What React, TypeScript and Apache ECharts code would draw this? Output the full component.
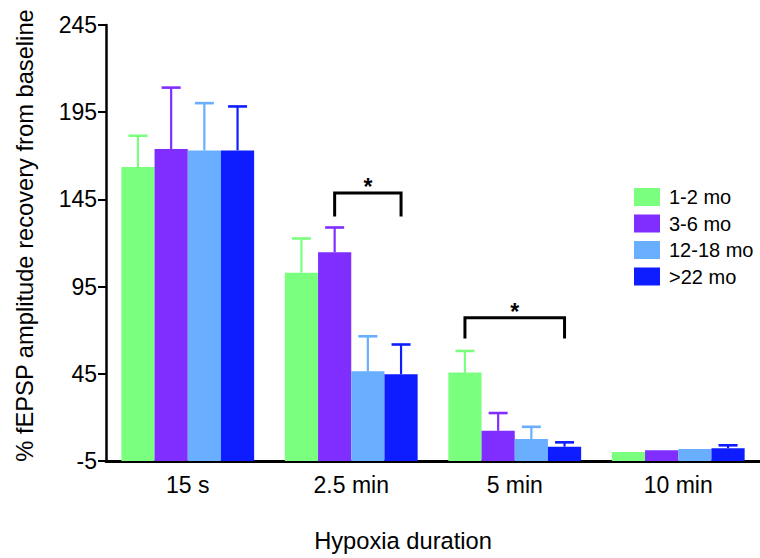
import React, { useEffect, useRef } from "react";
import * as echarts from "echarts";

const categories = ["15 s", "2.5 min", "5 min", "10 min"];
const seriesNames = ["1-2 mo", "3-6 mo", "12-18 mo", ">22 mo"];
const seriesColors = ["#7BFF7F", "#7F2EFF", "#69AEFF", "#0D1DFF"];

const means1to2 = [163.6, 103.0, 45.7, 0.1];
const means3to6 = [173.9, 114.7, 12.3, 1.1];
const means12to18 = [173.1, 46.5, 7.6, 1.9];
const meansOver22 = [173.1, 44.8, 3.2, 2.3];

const errors1to2 = [17.9, 19.6, 12.4, 0];
const errors3to6 = [35.2, 14.2, 10.2, 0];
const errors12to18 = [27.1, 20.0, 7.0, 0];
const errorsOver22 = [25.2, 17.0, 2.5, 1.7];

// [category index, from series, to series, bracket top, leg bottom]
const brackets = [
  [1, 1, 3, 148.7, 135.2],
  [2, 0, 3, 77.2, 65.2],
];

const Y_MIN = -5;
const Y_MAX = 245;
const Y_STEP = 50;

const FONT = "'Liberation Sans', Arial, Helvetica, sans-serif";
const BAR_W = 33.2;

export default function App() {
  const ref = useRef<HTMLDivElement>(null);
  useEffect(() => {
    if (!ref.current) return;
    const chart = echarts.init(ref.current, undefined, { renderer: "svg" });
    const means = [means1to2, means3to6, means12to18, meansOver22];
    const errs = [errors1to2, errors3to6, errors12to18, errorsOver22];
    const shift = (v: number) => v - Y_MIN;

    const barSeries = seriesNames.map((name, s) => ({
      name,
      type: "bar",
      data: means[s].map(shift),
      barWidth: BAR_W,
      barGap: "0%",
      itemStyle: { color: seriesColors[s] },
      z: 2,
    }));

    const errData: number[][] = [];
    means.forEach((arr, s) =>
      arr.forEach((m, c) => errData.push([c, s, shift(m), errs[s][c]]))
    );

    const errorSeries = {
      type: "custom",
      z: 3,
      silent: true,
      data: errData,
      encode: { x: 0, y: 2 },
      renderItem: (params: any, api: any) => {
        const c = api.value(0);
        const s = api.value(1);
        const m = api.value(2);
        const e = api.value(3);
        if (!e) return null;
        const base = api.coord([c, m]);
        const top = api.coord([c, m + e]);
        const x = base[0] + (s - 1.5) * BAR_W;
        const col = seriesColors[s];
        return {
          type: "group",
          children: [
            { type: "line", shape: { x1: x, y1: base[1], x2: x, y2: top[1] }, style: { stroke: col, lineWidth: 2.2 } },
            { type: "line", shape: { x1: x - 9.5, y1: top[1], x2: x + 9.5, y2: top[1] }, style: { stroke: col, lineWidth: 2.6 } },
          ],
        };
      },
    };

    const bracketSeries = {
      type: "custom",
      z: 4,
      silent: true,
      data: brackets.map((b) => [b[0], b[1], b[2], shift(b[3]), shift(b[4])]),
      encode: { x: 0, y: 3 },
      renderItem: (params: any, api: any) => {
        const c = api.value(0);
        const from = api.value(1);
        const to = api.value(2);
        const topP = api.coord([c, api.value(3)]);
        const legP = api.coord([c, api.value(4)]);
        const x1 = topP[0] + (from - 1.5) * BAR_W;
        const x2 = topP[0] + (to - 1.5) * BAR_W;
        return {
          type: "group",
          children: [
            {
              type: "polyline",
              shape: { points: [[x1, legP[1]], [x1, topP[1]], [x2, topP[1]], [x2, legP[1]]] },
              style: { stroke: "#000", lineWidth: 3, fill: null },
            },
            {
              type: "text",
              x: (x1 + x2) / 2,
              y: topP[1] - 6,
              style: { text: "*", fill: "#000", font: `bold 23px ${FONT}`, align: "center", verticalAlign: "middle" },
            },
          ],
        };
      },
    };

    chart.setOption({
      animation: false,
      textStyle: { fontFamily: FONT },
      grid: { left: 106, top: 25, width: 656, height: 437, containLabel: false },
      legend: {
        data: seriesNames,
        orient: "vertical",
        left: 629,
        top: 182,
        icon: "rect",
        itemWidth: 26,
        itemHeight: 18,
        itemGap: 6.5,
        textStyle: { fontSize: 20, color: "#000", fontFamily: FONT, padding: [0, 0, 0, 4] },
        selectedMode: false,
      },
      xAxis: {
        type: "category",
        data: categories,
        axisLine: { lineStyle: { color: "#000", width: 3 } },
        axisTick: { show: false },
        axisLabel: { fontSize: 23, color: "#000", margin: 12, fontFamily: FONT },
        name: "Hypoxia duration",
        nameLocation: "middle",
        nameGap: 68,
        nameTextStyle: { fontSize: 23.7, color: "#000", fontFamily: FONT, padding: [0, 60, 0, 0] },
      },
      yAxis: {
        type: "value",
        min: 0,
        max: Y_MAX - Y_MIN,
        interval: Y_STEP,
        axisLine: { show: true, lineStyle: { color: "#000", width: 2.5 } },
        axisTick: { show: true, length: 8, lineStyle: { width: 2 } },
        splitLine: { show: false },
        axisLabel: {
          fontSize: 23,
          color: "#000",
          margin: 9,
          fontFamily: FONT,
          formatter: (v: number) => String(v + Y_MIN),
        },
        name: "% fEPSP amplitude recovery from baseline",
        nameLocation: "middle",
        nameGap: 69,
        nameTextStyle: { fontSize: 23.7, color: "#000", fontFamily: FONT, padding: [0, 0, 0, 15] },
      },
      series: [...barSeries, errorSeries, bracketSeries],
    });
    return () => chart.dispose();
  }, []);
  return (
    <div
      ref={ref}
      style={{ position: "absolute", left: 0, top: 0, width: 760, height: 558, background: "#fff" }}
    />
  );
}
